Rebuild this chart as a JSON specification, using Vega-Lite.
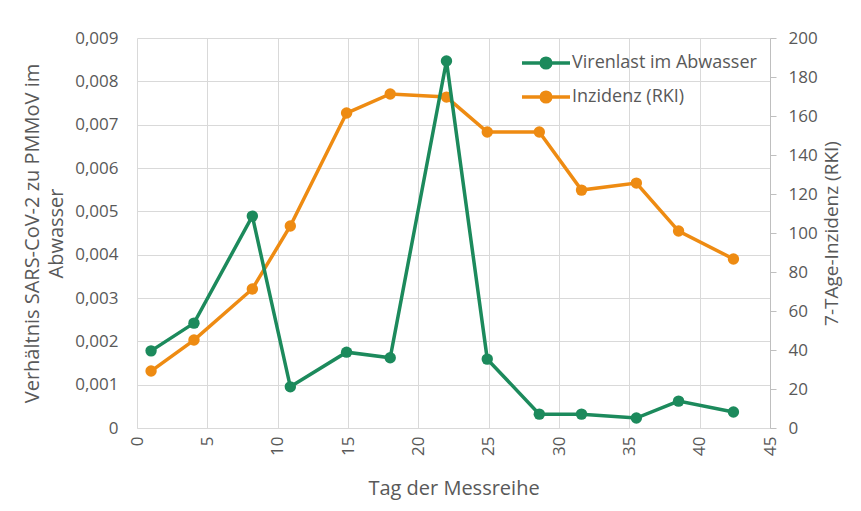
{
  "$schema": "https://vega.github.io/schema/vega-lite/v6.json",
  "autosize": "none",
  "width": 633,
  "height": 390,
  "padding": {"left": 137, "top": 38, "right": 91, "bottom": 83},
  "background": "white",
  "config": {
    "font": "Open Sans",
    "view": {"stroke": null},
    "axis": {
      "labelFont": "Open Sans",
      "titleFont": "Open Sans",
      "labelFontSize": 17,
      "titleFontSize": 20,
      "labelColor": "#595959",
      "titleColor": "#595959",
      "titleFontWeight": "normal",
      "gridColor": "#d9d9d9",
      "gridWidth": 1,
      "domainColor": "#bfbfbf",
      "tickColor": "#bfbfbf"
    },
    "legend": {
      "labelFont": "Open Sans",
      "labelFontSize": 18,
      "labelColor": "#595959",
      "labelLimit": 400
    }
  },
  "data": {
    "values": [
      {"tag": 1.0, "virenlast": 0.00178, "inzidenz": 29.2},
      {"tag": 4.05, "virenlast": 0.00242, "inzidenz": 45.1},
      {"tag": 8.2, "virenlast": 0.00489, "inzidenz": 71.3},
      {"tag": 10.9, "virenlast": 0.00095, "inzidenz": 103.6},
      {"tag": 14.9, "virenlast": 0.00175, "inzidenz": 161.5},
      {"tag": 18.0, "virenlast": 0.00162, "inzidenz": 171.3},
      {"tag": 22.0, "virenlast": 0.00847, "inzidenz": 169.7},
      {"tag": 24.9, "virenlast": 0.00159, "inzidenz": 151.8},
      {"tag": 28.6, "virenlast": 0.00032, "inzidenz": 151.8},
      {"tag": 31.6, "virenlast": 0.00032, "inzidenz": 122.0},
      {"tag": 35.5, "virenlast": 0.00023, "inzidenz": 125.6},
      {"tag": 38.5, "virenlast": 0.00062, "inzidenz": 101.0},
      {"tag": 42.4, "virenlast": 0.00037, "inzidenz": 86.7}
    ]
  },
  "encoding": {
    "x": {
      "field": "tag",
      "type": "quantitative",
      "scale": {"domain": [0, 45], "nice": false},
      "axis": {
        "title": "Tag der Messreihe",
        "values": [0, 5, 10, 15, 20, 25, 30, 35, 40, 45],
        "labelAngle": -90,
        "labelAlign": "right",
        "labelBaseline": "middle",
        "labelPadding": 8,
        "ticks": false,
        "domain": true,
        "domainColor": "#d9d9d9",
        "grid": true,
        "titlePadding": 23,
        "labelFlush": false
      }
    }
  },
  "layer": [
    {
      "mark": {"type": "line", "strokeWidth": 3.5, "point": {"filled": true, "size": 130, "opacity": 1}},
      "encoding": {
        "y": {
          "field": "inzidenz",
          "type": "quantitative",
          "scale": {"domain": [0, 200], "nice": false},
          "axis": {
            "orient": "right",
            "title": "7-TAge-Inzidenz (RKI)",
            "titleFontSize": 19,
            "values": [0, 20, 40, 60, 80, 100, 120, 140, 160, 180, 200],
            "grid": false,
            "domain": true,
            "ticks": true,
            "tickSize": 6,
            "labelPadding": 12,
            "titleAngle": -90,
            "titleBaseline": "top",
            "titlePadding": 5,
            "labelFlush": false
          }
        },
        "color": {
          "datum": "Inzidenz (RKI)",
          "type": "nominal",
          "scale": {"domain": ["Virenlast im Abwasser", "Inzidenz (RKI)"], "range": ["#1c8a5c", "#ee8b12"]},
          "legend": {
            "title": null,
            "orient": "none",
            "legendX": 391,
            "legendY": 7,
            "symbolType": "M-1.5,0L1.5,0M0.3,0A0.3,0.3,0,1,1,-0.3,0A0.3,0.3,0,1,1,0.3,0Z",
            "symbolSize": 1024,
            "symbolStrokeWidth": 3.5,
            "rowPadding": 4,
            "labelOffset": 8,
            "encode": {
              "symbols": {"update": {"fill": {"scale": "color", "field": "value"}, "fillOpacity": {"value": 1}}}
            }
          }
        }
      }
    },
    {
      "mark": {"type": "line", "strokeWidth": 3.5, "point": {"filled": true, "size": 130, "opacity": 1}},
      "encoding": {
        "y": {
          "field": "virenlast",
          "type": "quantitative",
          "scale": {"domain": [0, 0.009], "nice": false},
          "axis": {
            "orient": "left",
            "title": ["Verhältnis SARS-CoV-2 zu PMMoV im", "Abwasser"],
            "titleLineHeight": 24,
            "values": [0, 0.001, 0.002, 0.003, 0.004, 0.005, 0.006, 0.007, 0.008, 0.009],
            "labelExpr": "datum.value == 0 ? '0' : replace(format(datum.value, '.3f'), '.', ',')",
            "grid": true,
            "domain": false,
            "ticks": false,
            "labelPadding": 19,
            "titlePadding": 8,
            "labelFlush": false
          }
        },
        "color": {"datum": "Virenlast im Abwasser", "type": "nominal"}
      }
    }
  ],
  "resolve": {"scale": {"y": "independent"}}
}
